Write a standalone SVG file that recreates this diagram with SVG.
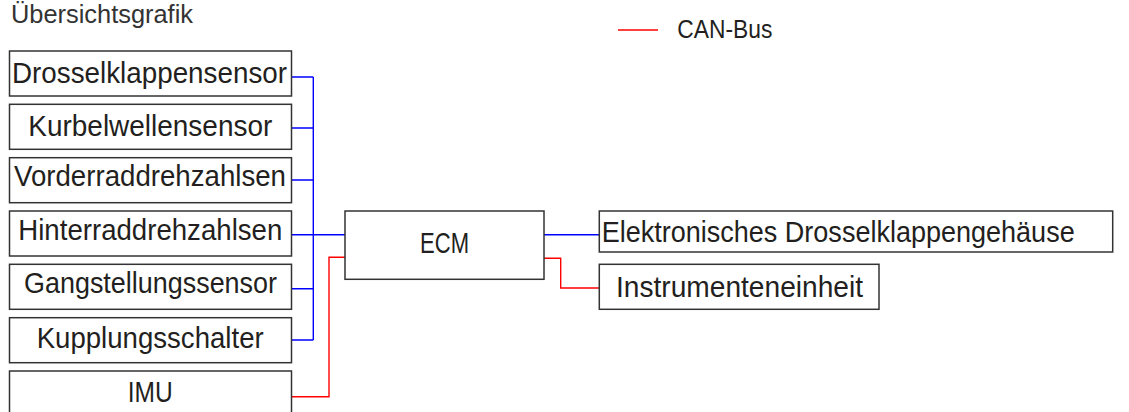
<svg xmlns="http://www.w3.org/2000/svg" width="1129" height="412" viewBox="0 0 1129 412">
<style>
.box{fill:#fff;stroke:#333;stroke-width:1.5}
.t{font-family:"Liberation Sans",Arial,sans-serif;font-size:29px;fill:#231f20}
.blue{fill:none;stroke:#0000ff;stroke-width:1.4}
.red{fill:none;stroke:#ff0000;stroke-width:1.4}
</style>
<text x="11" y="22.7" style="font-family:'Liberation Sans',Arial,sans-serif;font-size:25px;fill:#333" textLength="182" lengthAdjust="spacingAndGlyphs">Übersichtsgrafik</text>
<g id="legend">
<line x1="618" y1="30" x2="658" y2="30" class="red"/>
<text x="677.3" y="37.7" style="font-family:'Liberation Sans',Arial,sans-serif;font-size:26px;fill:#231f20" textLength="95" lengthAdjust="spacingAndGlyphs">CAN-Bus</text>
</g>
<g id="connectors">
<path class="blue" d="M291.5 77H313.3M291.5 128H313.3M291.5 180H313.3M291.5 234.7H345M291.5 288.7H313.3M291.5 340H313.3M313.3 77V340"/>
<path class="red" d="M291.5 396.7H329V257.3H345"/>
<path class="blue" d="M544 234.7H599.3"/>
<path class="red" d="M544 258.3H560.7V288H599.3"/>
</g>
<g id="n1"><rect class="box" x="9.5" y="51" width="282" height="45"/><text class="t" x="12" y="83.3" textLength="275" lengthAdjust="spacingAndGlyphs">Drosselklappensensor</text></g>
<g id="n2"><rect class="box" x="9.5" y="104.3" width="282" height="45"/><text class="t" x="28.3" y="136" textLength="244" lengthAdjust="spacingAndGlyphs">Kurbelwellensensor</text></g>
<g id="n3"><rect class="box" x="9.5" y="157.7" width="282" height="45"/><text class="t" x="14" y="186" textLength="272" lengthAdjust="spacingAndGlyphs">Vorderraddrehzahlsen</text></g>
<g id="n4"><rect class="box" x="9.5" y="211" width="282" height="45"/><text class="t" x="18.3" y="240" textLength="264" lengthAdjust="spacingAndGlyphs">Hinterraddrehzahlsen</text></g>
<g id="n5"><rect class="box" x="9.5" y="264.3" width="282" height="45"/><text class="t" x="24" y="293.3" textLength="253" lengthAdjust="spacingAndGlyphs">Gangstellungssensor</text></g>
<g id="n6"><rect class="box" x="9.5" y="317.7" width="282" height="45"/><text class="t" x="36.7" y="348.3" textLength="227" lengthAdjust="spacingAndGlyphs">Kupplungsschalter</text></g>
<g id="n7"><rect class="box" x="9.5" y="371" width="282" height="45"/><text class="t" x="127.7" y="401.7" textLength="45" lengthAdjust="spacingAndGlyphs">IMU</text></g>
<g id="ecm"><rect class="box" x="345" y="211" width="199" height="68.3"/><text class="t" x="420" y="253.3" textLength="49" lengthAdjust="spacingAndGlyphs">ECM</text></g>
<g id="etb"><rect class="box" x="599.3" y="211" width="513.4" height="41"/><text class="t" x="601.7" y="241.7" textLength="473" lengthAdjust="spacingAndGlyphs">Elektronisches Drosselklappengehäuse</text></g>
<g id="inst"><rect class="box" x="599.3" y="264.3" width="279.7" height="45"/><text class="t" x="616" y="296.7" textLength="247" lengthAdjust="spacingAndGlyphs">Instrumenteneinheit</text></g>
</svg>
